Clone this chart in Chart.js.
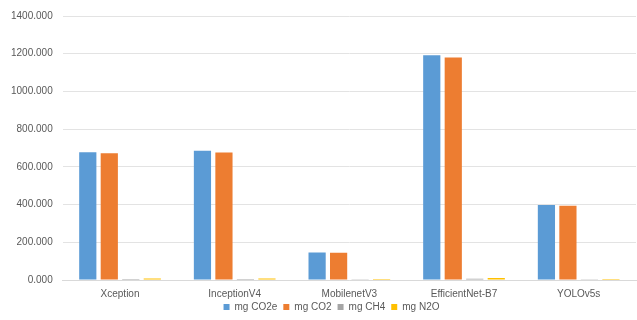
<!DOCTYPE html>
<html>
<head>
<meta charset="utf-8">
<script src="https://cdn.jsdelivr.net/npm/chart.js@4/dist/chart.umd.min.js"></script>
<style>
  html, body { margin: 0; padding: 0; background: #ffffff; }
  #wrap { width: 637px; height: 320px; position: relative; }
</style>
</head>
<body>
<div id="wrap"><canvas id="c" width="637" height="320"></canvas></div>
<script>
// Emissions per model (milligrams)
const models = ["Xception", "InceptionV4", "MobilenetV3", "EfficientNet-B7", "YOLOv5s"];
const co2e = [678, 685, 146, 1192, 398];
const co2  = [672, 676, 145, 1180, 394];
const ch4  = [5, 5, 4, 7, 4];
const n2o  = [8, 8, 5, 11, 5];
const seriesNames = ["mg CO2e", "mg CO2", "mg CH4", "mg N2O"];
const yTicks = [0, 200, 400, 600, 800, 1000, 1200, 1400];

const colors = ["#5B9BD5", "#ED7D31", "#A5A5A5", "#FFC000"];
const values = [co2e, co2, ch4, n2o];

const FONT = "'Liberation Sans', Arial, sans-serif";
const TEXT = "#595959";

// Keeps the bottom legend compact: fixed box height, nudged up and right.
const LEGEND_HEIGHT = 20;
const LEGEND_LIFT = 4;
const LEGEND_SHIFT = 13;
const compactLegend = {
  id: "compactLegend",
  beforeLayout(chart) {
    const lg = chart.legend;
    if (lg && !lg._compact) {
      const fit = lg.fit;
      lg.fit = function () { fit.call(this); this.height = LEGEND_HEIGHT; };
      lg._compact = true;
    }
  },
  afterLayout(chart) {
    const lg = chart.legend;
    if (lg) {
      lg.top -= LEGEND_LIFT; lg.bottom -= LEGEND_LIFT;
      lg.left += LEGEND_SHIFT; lg.right += LEGEND_SHIFT;
    }
  }
};

new Chart(document.getElementById("c"), {
  type: "bar",
  data: {
    labels: models,
    datasets: seriesNames.map((name, i) => ({
      label: name,
      data: values[i],
      backgroundColor: colors[i],
      borderWidth: 0,
      barPercentage: 0.8,
      categoryPercentage: 0.75
    }))
  },
  plugins: [compactLegend],
  options: {
    responsive: false,
    animation: false,
    devicePixelRatio: 1,
    layout: { autoPadding: false, padding: { top: 14, right: 1, left: 1, bottom: 0 } },
    plugins: {
      tooltip: { enabled: false },
      legend: {
        position: "bottom",
        labels: {
          boxWidth: 6,
          boxHeight: 6,
          padding: 6,
          color: TEXT,
          font: { family: FONT, size: 10 }
        }
      }
    },
    scales: {
      x: {
        grid: { display: false, drawTicks: false },
        border: { color: "#d9d9d9" },
        ticks: { color: TEXT, font: { family: FONT, size: 10 }, padding: 8 },
        afterFit: scale => { scale.height = 20; }
      },
      y: {
        min: 0,
        max: 1400,
        afterBuildTicks: axis => { axis.ticks = yTicks.map(v => ({ value: v })); },
        grid: { color: "#e3e3e3", drawTicks: false },
        border: { display: false },
        ticks: {
          color: TEXT,
          font: { family: FONT, size: 10 },
          padding: 10,
          callback: v => Number(v).toFixed(3)
        }
      }
    }
  }
});
</script>
</body>
</html>
